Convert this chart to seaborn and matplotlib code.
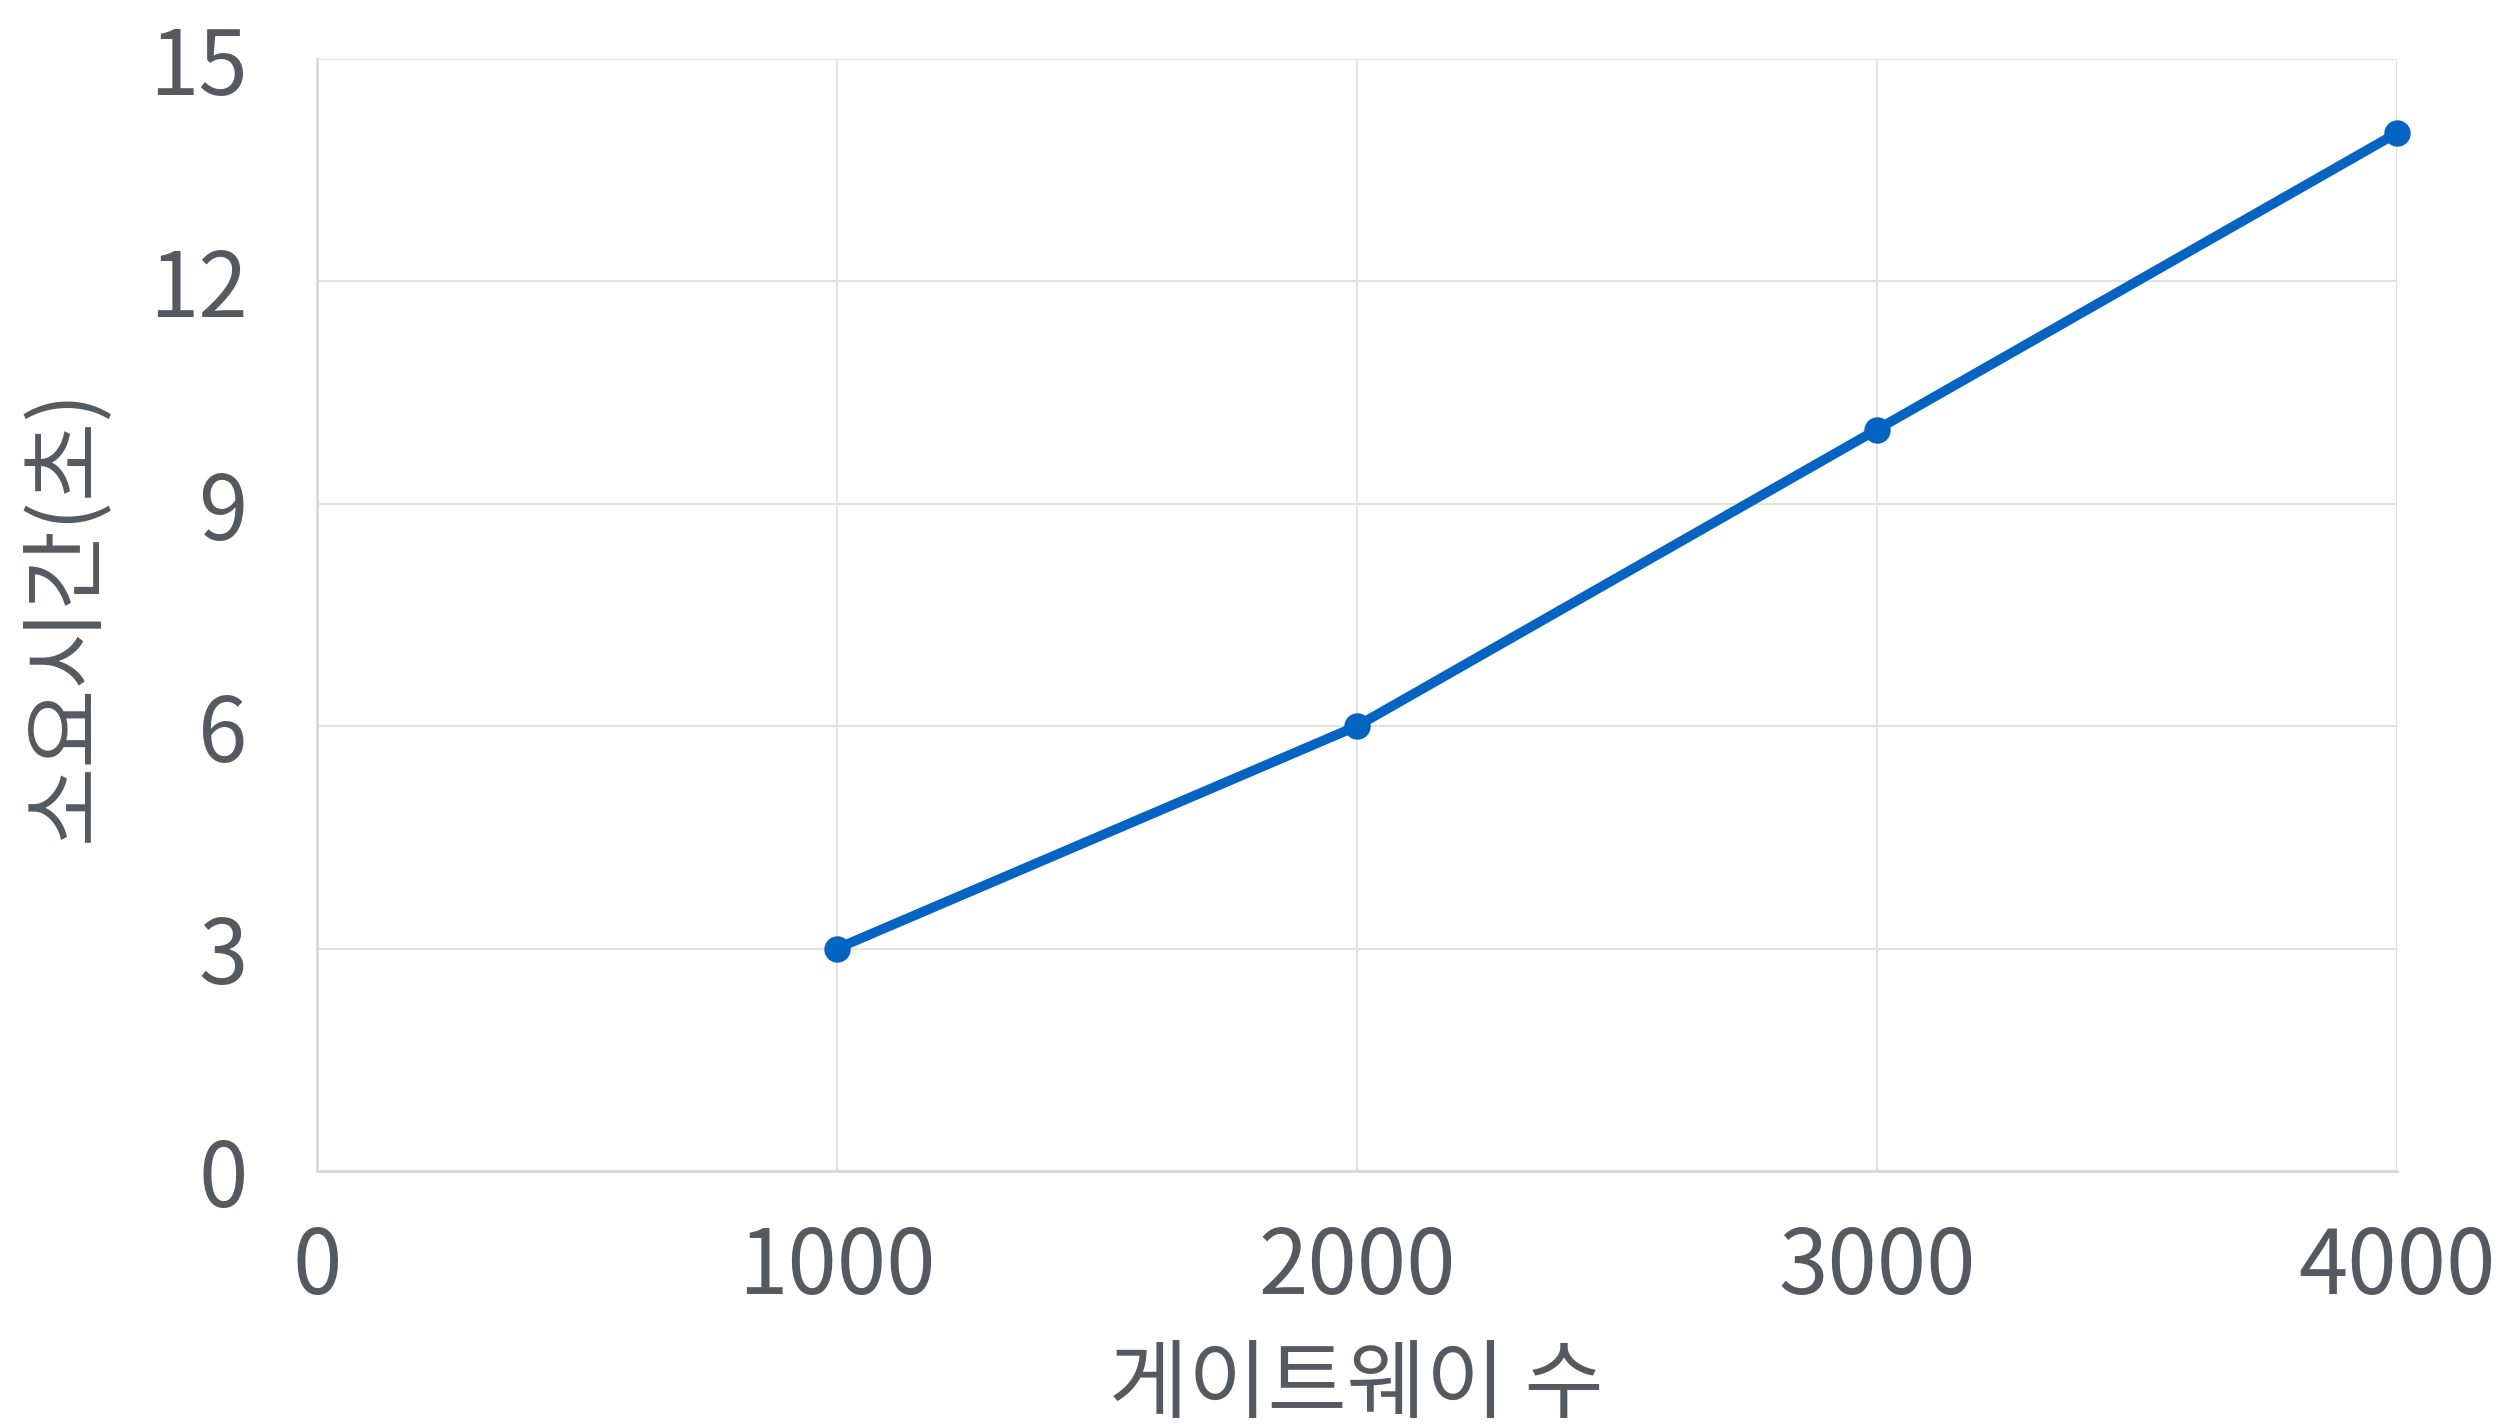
import matplotlib
matplotlib.use("Agg")
import matplotlib.pyplot as plt
import seaborn as sns
import pandas as pd

# 게이트웨이 수 vs 소요시간
gateways = [1000, 2000, 3000, 4000]
seconds = [3, 6, 10, 14]
x_ticks = [0, 1000, 2000, 3000, 4000]
y_ticks = [0, 3, 6, 9, 12, 15]

text_color = "#555a61"
line_color = "#0563c1"
grid_color = "#e2e2e2"

sns.set_theme(style="white")
plt.rcParams['font.family'] = ['Noto Sans CJK KR', 'DejaVu Sans']

df = pd.DataFrame({"gw": gateways, "sec": seconds})

fig = plt.figure(figsize=(25.09, 14.27), dpi=100)
ax = fig.add_axes([0.1263, 0.1794, 0.8290, 0.7793])

sns.lineplot(data=df, x="gw", y="sec", ax=ax, color=line_color,
             linewidth=7, marker="o", markersize=19, markeredgewidth=0)
for ln in ax.lines:
    ln.set_clip_on(False)

ax.set_xlim(0, 4000)
ax.set_ylim(0, 15)
ax.set_xticks(x_ticks)
ax.set_yticks(y_ticks)
ax.grid(True, color=grid_color, linewidth=1.5)
ax.set_axisbelow(True)

for side in ["left", "bottom"]:
    ax.spines[side].set_color("#d9d9d9")
    ax.spines[side].set_linewidth(2)
for side in ["top", "right"]:
    ax.spines[side].set_visible(False)

ax.tick_params(axis="both", length=0, labelsize=64, labelcolor=text_color)
ax.tick_params(axis="x", pad=37)
ax.tick_params(axis="y", pad=50)

ax.set_xlabel("게이트웨이 수", fontsize=62, color=text_color, labelpad=20)
ax.set_ylabel("소요시간(초)", fontsize=62, color=text_color, labelpad=28)

fig.savefig("out.png", dpi=100)
